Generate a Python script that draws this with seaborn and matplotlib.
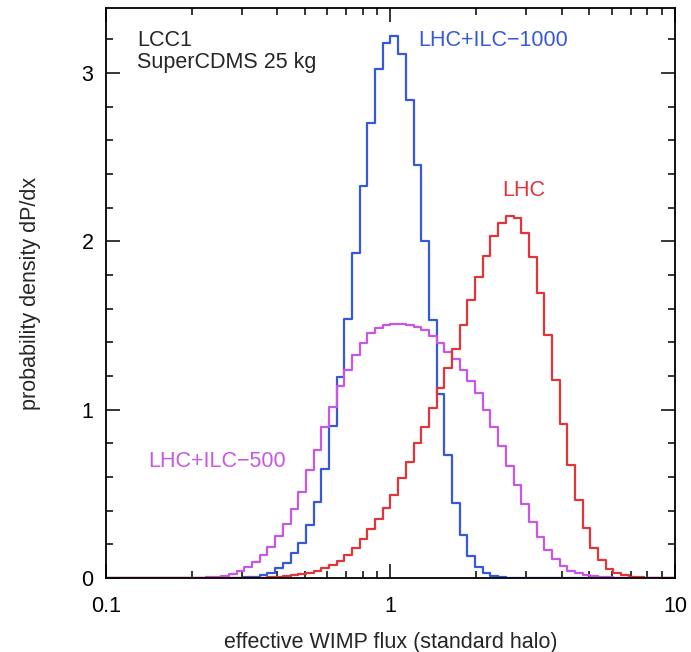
import numpy as np
import pandas as pd
import matplotlib
matplotlib.use("Agg")
import matplotlib.pyplot as plt
import seaborn as sns
from matplotlib.ticker import LogLocator, MultipleLocator, NullFormatter

# histogram binning: 74 bins, equal width in log10(flux), from 0.1 to 10
n_bins = 74
log_lo, log_hi = -1.0, 1.0

# bin heights (dP/dx), one value per bin, left to right
lhc = [
    0, 0, 0, 0, 0, 0, 0, 0, 0, 0,
    0, 0, 0, 0, 0, 0, 0, 0, 0, 0,
    0.001, 0.003, 0.006, 0.010, 0.016, 0.024, 0.032, 0.044, 0.057, 0.077,
    0.103, 0.137, 0.176, 0.232, 0.290, 0.350, 0.417, 0.495, 0.592, 0.690,
    0.800, 0.895, 1.010, 1.127, 1.245, 1.360, 1.502, 1.651, 1.786, 1.915,
    2.032, 2.110, 2.150, 2.136, 2.047, 1.906, 1.695, 1.446, 1.178, 0.915,
    0.671, 0.463, 0.297, 0.179, 0.105, 0.055, 0.030, 0.015, 0.007, 0.003,
    0.001, 0, 0, 0,
]
lhc_ilc500 = [
    0, 0, 0, 0, 0, 0, 0, 0, 0, 0,
    0, 0.001, 0.002, 0.004, 0.007, 0.012, 0.024, 0.044, 0.067, 0.097,
    0.137, 0.186, 0.250, 0.320, 0.410, 0.513, 0.641, 0.760, 0.895, 1.017,
    1.140, 1.235, 1.324, 1.394, 1.453, 1.483, 1.502, 1.508, 1.508, 1.500,
    1.492, 1.473, 1.440, 1.394, 1.344, 1.298, 1.235, 1.172, 1.097, 0.998,
    0.895, 0.784, 0.665, 0.552, 0.440, 0.334, 0.245, 0.166, 0.111, 0.071,
    0.043, 0.028, 0.018, 0.010, 0.006, 0.003, 0, 0, 0, 0,
    0, 0, 0, 0,
]
lhc_ilc1000 = [
    0, 0, 0, 0, 0, 0, 0, 0, 0, 0,
    0, 0, 0, 0, 0, 0, 0, 0.002, 0.004, 0.008,
    0.015, 0.028, 0.058, 0.090, 0.147, 0.206, 0.315, 0.453, 0.650, 0.900,
    1.195, 1.540, 1.930, 2.330, 2.700, 3.020, 3.180, 3.220, 3.110, 2.840,
    2.450, 2.000, 1.530, 1.090, 0.730, 0.447, 0.255, 0.130, 0.067, 0.028,
    0.010, 0.004, 0, 0, 0, 0, 0, 0, 0, 0,
    0, 0, 0, 0, 0, 0, 0, 0, 0, 0,
    0, 0, 0, 0,
]

names = ["LHC", "LHC+ILC−500", "LHC+ILC−1000"]
colors = {"LHC": "#e23539", "LHC+ILC−500": "#c857e6", "LHC+ILC−1000": "#3659d8"}

edges = np.logspace(log_lo, log_hi, n_bins + 1)
mids = np.sqrt(edges[:-1] * edges[1:])
df = pd.DataFrame({
    "flux": np.tile(mids, 3),
    "density": np.concatenate([lhc, lhc_ilc500, lhc_ilc1000]),
    "sample": np.repeat(names, n_bins),
})

sns.set_style("ticks")
plt.rcParams["font.family"] = ["Liberation Sans", "DejaVu Sans"]
fs = 15.5

fig = plt.figure(figsize=(6.91, 6.52), dpi=100)
ax = fig.add_axes([0.1534, 0.1135, 0.8234, 0.8742])

sns.histplot(data=df, x="flux", weights="density", hue="sample", hue_order=names,
             bins=n_bins, binrange=(log_lo, log_hi), log_scale=(True, False),
             element="step", fill=False, palette=colors, legend=False,
             linewidth=1.6, ax=ax)

ax.set_xlim(0.1, 10)
ax.set_ylim(0, 3.385)
ax.set_xticks([0.1, 1, 10], labels=["0.1", "1", "10"])
ax.xaxis.set_minor_locator(LogLocator(base=10, subs=np.arange(2, 10)))
ax.xaxis.set_minor_formatter(NullFormatter())
ax.set_yticks([0, 1, 2, 3], labels=["0", "1", "2", "3"])
ax.yaxis.set_minor_locator(MultipleLocator(0.2))
ax.tick_params(which="both", direction="in", top=True, right=True,
               width=1.1, colors="black", labelsize=fs)
ax.tick_params(which="major", length=10)
ax.tick_params(axis="x", which="major", pad=13)
ax.tick_params(axis="y", which="major", pad=9)
ax.tick_params(which="minor", length=5)
for s in ax.spines.values():
    s.set_linewidth(1.3)
    s.set_color("black")

ax.set_xlabel("effective WIMP flux (standard halo)", fontsize=fs, labelpad=11)
ax.set_ylabel("probability density dP/dx", fontsize=fs, labelpad=29)

ax.text(0.1285, 3.195, "LCC1", fontsize=fs, va="center")
ax.text(0.1285, 3.064, "SuperCDMS 25 kg", fontsize=fs, va="center")
ax.text(1.249, 3.195, "LHC+ILC−1000", fontsize=fs, va="center",
        color=colors["LHC+ILC−1000"])
ax.text(2.48, 2.304, "LHC", fontsize=fs, va="center", color=colors["LHC"])
ax.text(0.1405, 0.689, "LHC+ILC−500", fontsize=fs, va="center",
        color=colors["LHC+ILC−500"])

plt.savefig("out.png", dpi=100)
